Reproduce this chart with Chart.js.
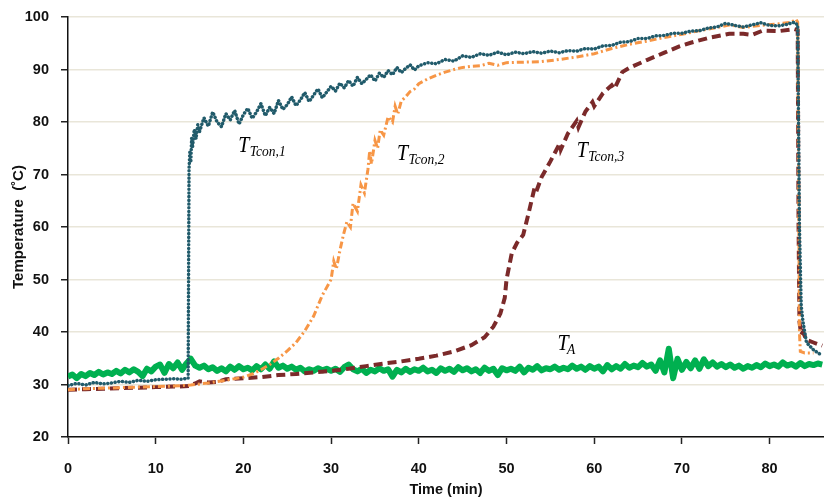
<!DOCTYPE html>
<html><head><meta charset="utf-8">
<script src="https://cdn.jsdelivr.net/npm/chart.js@4.4.1/dist/chart.umd.min.js"></script>
<style>html,body{margin:0;padding:0;background:#fff;}#wrap{width:824px;height:502px;}</style>
</head><body><div id="wrap"><canvas id="c" width="824" height="502"></canvas></div>
<script>
// ---- Data ----
const xTicks = [0, 10, 20, 30, 40, 50, 60, 70, 80];
const yTicks = [20, 30, 40, 50, 60, 70, 80, 90, 100];

const tcon1Time = [0,1,2,3,4,5,6,7,8,9,10,11,12,13,13.7,13.8,13.9,14.0,14.1,14.2,14.4,14.6,14.8,15,
 15.5,16,16.5,17,17.5,18,18.5,19,19.5,20,20.5,21,21.5,22,22.5,23,23.5,24,24.5,25,
 25.5,26,26.5,27,27.5,28,28.5,29,29.5,30,30.5,31,31.5,32,32.5,33,33.5,34,34.5,35,
 35.5,36,36.5,37,37.5,38,38.5,39,39.5,40,41,42,43,44,45,46,47,48,49,50,
 51,52,53,54,55,56,57,58,59,60,61,62,63,64,65,66,67,68,69,70,
 71,72,73,74,75,76,77,78,79,80,81,82,82.8,83.2,83.4,83.6,83.8,84.2,85,86];
const tcon1 = [29.8,30.2,29.9,30.4,30.1,30.3,30.6,30.4,30.8,30.6,30.9,31.0,31.1,31.0,31.2,
 71.0,74.5,72.3,77.0,75.2,78.6,76.8,79.5,78.2,
 80.8,79.2,81.9,80.0,79.1,81.6,80.4,82.2,79.6,81.4,
 82.6,80.7,81.9,83.5,81.2,82.8,81.6,84.1,82.4,83.3,
 84.8,83.1,84.2,85.6,83.9,85.1,86.3,84.6,85.7,86.8,
 85.9,87.4,86.5,87.9,86.8,88.5,87.3,88.1,89.0,87.8,
 89.3,88.5,89.8,89.0,90.4,89.4,90.2,90.9,89.9,90.7,
 91.3,91.1,91.9,91.6,92.6,92.3,93.0,92.7,93.3,92.8,
 93.3,93.0,93.4,93.1,93.5,93.2,93.6,93.5,94.0,93.9,
 94.5,94.6,95.2,95.3,95.9,95.9,96.4,96.5,96.9,96.9,
 97.3,97.4,97.9,98.1,98.8,98.4,98.1,98.5,98.9,98.4,
 98.3,98.6,99.0,98.5,60.0,45.0,42.0,38.0,36.6,35.5];

const tcon2Time = [0,2,4,6,8,10,12,14,16,18,20,21,22,23,24,25,26,27,28,28.5,29,29.5,30,30.3,30.6,
 31,31.4,31.8,32.2,32.5,33,33.4,33.8,34.2,34.4,34.6,35,35.3,35.6,36,36.5,37,37.3,37.6,38,38.5,39,39.5,40,
 41,42,43,44,45,46,47,48,49,50,52,54,56,58,60,62,64,66,68,70,72,74,75.5,77,79,81,82.5,
 83,83.2,83.3,83.4,83.5,84,85];
const tcon2 = [29.0,29.2,29.3,29.4,29.5,29.6,29.7,29.9,30.3,30.8,31.4,32.0,32.8,33.8,35.0,36.4,38.0,40.2,43.0,
 45.0,47.0,48.5,50.0,53.5,52.0,55.5,58.5,61.0,60.0,64.5,63.0,68.0,66.5,71.0,74.5,72.0,
 76.5,75.0,78.5,77.5,81.0,80.0,83.0,81.5,84.0,84.8,85.8,86.3,87.3,
 88.2,88.9,89.5,90.0,90.4,90.6,90.7,91.2,90.8,91.3,
 91.4,91.5,91.9,92.4,93.0,94.0,94.8,95.4,96.1,96.7,97.4,98.0,
 98.5,98.0,98.4,98.7,99.0,99.6,99.0,70.0,40.0,36.3,36.0,36.0];

const tcon3Time = [0,2,4,6,8,10,12,13.8,14.5,15,16,17,18,20,22,24,26,28,30,32,34,36,38,40,42,44,46,
 47.5,48.5,49.3,49.8,50.0,50.3,50.6,51.2,51.9,52.5,53.2,53.4,54,55,56.1,56.2,57,58,58.2,59,59.8,60,
 61,62,62.3,63.2,64,66,68,69.7,71,73,75.4,77,78,79.2,81,82.8,83.2,83.3,83.4,83.6,83.8,84.2,85,86];
const tcon3 = [29.0,29.1,29.2,29.3,29.4,29.5,29.6,29.7,30.2,30.6,30.4,30.5,31.0,
 31.2,31.4,31.8,32.0,32.3,32.6,33.0,33.5,34.0,34.4,34.9,35.5,36.3,37.5,
 39.0,41.0,43.5,46.5,50.0,52.5,55.0,57.0,58.5,62.5,67.5,66.8,69.5,72.5,
 76.0,74.8,77.8,80.2,79.0,82.0,83.8,83.0,85.5,87.0,86.3,89.5,90.3,91.8,93.2,94.4,
 95.1,96.0,96.8,96.8,96.6,97.4,97.3,97.7,97.5,60.0,42.0,39.5,40.0,38.5,38.0,37.4];

const tAStep = 0.5; // sampling interval (min) of the ambient series
const tA = [
 31.5,31.9,31.2,32.0,31.6,32.2,31.8,32.4,31.9,32.3,
 32.0,32.6,32.1,32.8,32.3,32.9,32.4,31.6,33.0,32.5,
 33.4,33.8,32.2,33.9,33.1,34.2,32.8,34.0,34.9,33.6,
 33.2,33.6,32.9,33.3,32.6,33.1,32.5,33.4,32.8,33.5,
 32.9,33.2,32.7,33.5,32.9,33.8,33.0,34.4,33.2,33.6,
 33.0,33.4,32.8,33.2,32.5,32.9,32.6,33.1,32.7,33.0,
 32.6,33.0,32.4,33.3,33.8,32.9,32.5,33.0,32.2,32.8,
 32.5,33.1,32.6,32.9,31.5,32.8,32.3,33.0,32.4,32.9,
 32.6,33.2,32.5,32.8,32.2,33.1,32.6,33.0,32.4,33.3,
 32.7,33.1,32.5,32.9,32.2,33.2,32.6,33.0,31.8,33.1,
 32.7,33.0,32.6,33.4,32.3,33.2,32.8,33.5,32.7,33.1,
 32.9,33.4,32.8,33.2,32.9,33.6,33.0,33.4,32.8,33.5,
 33.0,33.4,32.5,33.7,32.9,33.5,33.0,33.9,33.2,33.6,
 33.3,34.1,33.4,33.8,32.6,34.6,32.3,36.8,31.2,34.9,
 32.8,34.3,33.1,34.6,33.0,34.8,33.5,34.2,33.4,33.9,
 33.3,33.8,33.2,33.6,33.0,33.5,33.2,33.7,33.3,34.0,
 33.5,33.8,33.4,34.2,33.6,33.9,33.4,34.1,33.5,33.9,
 33.7,34.0,33.8];
const tATime = tA.map((_, i) => i * tAStep);

// curve labels (data coordinates of the label baseline start)
const labelSub = ['Tcon,1', 'Tcon,2', 'Tcon,3', 'A'];
const labelX = [19.4, 37.5, 58.0, 55.8];
const labelY = [74.2, 72.8, 73.4, 36.6];

// ---- Chart ----
const pts = (xs, ys) => xs.map((v, i) => ({x: v, y: ys[i]}));

const labelPlugin = {
  id: 'curveLabels',
  afterDatasetsDraw(chart) {
    const {ctx, scales: {x, y}} = chart;
    ctx.save();
    ctx.fillStyle = '#000';
    ctx.textBaseline = 'alphabetic';
    for (let i = 0; i < labelSub.length; i++) {
      const px = x.getPixelForValue(labelX[i]);
      const py = y.getPixelForValue(labelY[i]);
      ctx.save();
      ctx.translate(px, py);
      ctx.scale(1, 1.14);
      ctx.font = 'italic 20px "Liberation Serif"';
      ctx.fillText('T', 0, 0);
      const w = ctx.measureText('T').width;
      ctx.font = 'italic 13.5px "Liberation Serif"';
      ctx.fillText(labelSub[i], labelSub[i] === 'A' ? w - 1.5 : w + 0.5, 3.5);
      ctx.restore();
    }
    ctx.restore();
  }
};

const tickFont = {family: '"Liberation Sans", Arial, sans-serif', weight: 'bold', size: 14.5};

new Chart(document.getElementById('c').getContext('2d'), {
  type: 'line',
  data: {
    datasets: [
      {label: 'T_Tcon,1', data: pts(tcon1Time, tcon1), borderColor: '#215B6B', borderWidth: 3.5,
       borderDash: [0.1, 3.6], borderCapStyle: 'round', pointRadius: 0, tension: 0},
      {label: 'T_Tcon,2', data: pts(tcon2Time, tcon2), borderColor: '#F79646', borderWidth: 3,
       borderDash: [7, 3, 2, 3], pointRadius: 0, tension: 0},
      {label: 'T_Tcon,3', data: pts(tcon3Time, tcon3), borderColor: '#7B2A2A', borderWidth: 4,
       borderDash: [9, 5], pointRadius: 0, tension: 0},
      {label: 'T_A', data: pts(tATime, tA), borderColor: '#00B050', borderWidth: 6,
       pointRadius: 0, tension: 0, borderJoinStyle: 'round'}
    ]
  },
  options: {
    responsive: false, animation: false, devicePixelRatio: 1,
    layout: {padding: {top: 17, left: 0, right: 0, bottom: 0}},
    plugins: {legend: {display: false}, tooltip: {enabled: false}},
    scales: {
      x: {
        type: 'linear', min: 0, max: 86.2,
        afterBuildTicks: s => { s.ticks = xTicks.map(v => ({value: v})); },
        afterFit: s => { s.height = 65; s.paddingLeft = 0; s.paddingRight = 0; },
        grid: {drawOnChartArea: false, drawTicks: true, tickLength: 7, tickColor: '#222', tickWidth: 1.5},
        border: {display: true, color: '#111', width: 1.5},
        ticks: {font: tickFont, color: '#111', padding: 16, maxRotation: 0},
        title: {display: true, text: 'Time (min)', font: {...tickFont, size: 14.5}, color: '#111', padding: {top: 0, bottom: 3}}
      },
      y: {
        min: 20, max: 100,
        afterBuildTicks: s => { s.ticks = yTicks.map(v => ({value: v})); },
        afterFit: s => { s.width = 68; s.paddingTop = 0; s.paddingBottom = 0; },
        grid: {color: '#E9E6D9', lineWidth: 1.5, drawTicks: true, tickLength: 7, tickColor: '#222', tickWidth: 1.5},
        border: {display: true, color: '#111', width: 1.5},
        ticks: {font: tickFont, color: '#111', padding: 12},
        title: {display: true, text: 'Temperature  (˚C)', font: {...tickFont, size: 15}, color: '#111', padding: {top: 10, bottom: 0}}
      }
    }
  },
  plugins: [labelPlugin]
});
</script></body></html>
